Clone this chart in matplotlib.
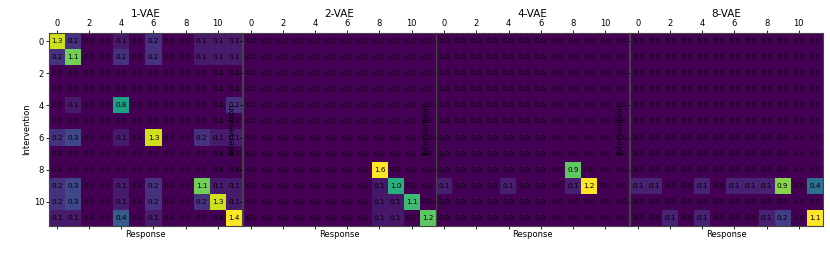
import numpy as np
import matplotlib
matplotlib.use("Agg")
import matplotlib.pyplot as plt

titles = ["1-VAE", "2-VAE", "4-VAE", "8-VAE"]

vae1 = [
    [1.3, 0.2, 0.0, 0.0, 0.1, 0.0, 0.2, 0.0, 0.0, 0.1, 0.1, 0.1],
    [0.2, 1.1, 0.0, 0.0, 0.2, 0.0, 0.2, 0.0, 0.0, 0.1, 0.1, 0.1],
    [0.0] * 12,
    [0.0] * 12,
    [0.0, 0.1, 0.0, 0.0, 0.8, 0.0, 0.0, 0.0, 0.0, 0.0, 0.0, 0.2],
    [0.0] * 12,
    [0.2, 0.3, 0.0, 0.0, 0.1, 0.0, 1.3, 0.0, 0.0, 0.2, 0.1, 0.1],
    [0.0] * 12,
    [0.0] * 12,
    [0.2, 0.3, 0.0, 0.0, 0.1, 0.0, 0.2, 0.0, 0.0, 1.1, 0.1, 0.1],
    [0.2, 0.3, 0.0, 0.0, 0.1, 0.0, 0.2, 0.0, 0.0, 0.2, 1.3, 0.1],
    [0.1, 0.1, 0.0, 0.0, 0.4, 0.0, 0.1, 0.0, 0.0, 0.0, 0.0, 1.4],
]

vae2 = [[0.0] * 12 for _ in range(8)] + [
    [0.0, 0.0, 0.0, 0.0, 0.0, 0.0, 0.0, 0.0, 1.6, 0.0, 0.0, 0.0],
    [0.0, 0.0, 0.0, 0.0, 0.0, 0.0, 0.0, 0.0, 0.1, 1.0, 0.0, 0.0],
    [0.0, 0.0, 0.0, 0.0, 0.0, 0.0, 0.0, 0.0, 0.1, 0.1, 1.1, 0.0],
    [0.0, 0.0, 0.0, 0.0, 0.0, 0.0, 0.0, 0.0, 0.1, 0.1, 0.0, 1.2],
]

vae4 = [[0.0] * 12 for _ in range(8)] + [
    [0.0, 0.0, 0.0, 0.0, 0.0, 0.0, 0.0, 0.0, 0.9, 0.0, 0.0, 0.0],
    [0.1, 0.0, 0.0, 0.0, 0.1, 0.0, 0.0, 0.0, 0.1, 1.2, 0.0, 0.0],
    [0.0] * 12,
    [0.0] * 12,
]

vae8 = [[0.0] * 12 for _ in range(9)] + [
    [0.1, 0.1, 0.0, 0.0, 0.1, 0.0, 0.1, 0.1, 0.1, 0.9, 0.0, 0.4],
    [0.0] * 12,
    [0.0, 0.0, 0.1, 0.0, 0.1, 0.0, 0.0, 0.0, 0.1, 0.2, 0.0, 1.1],
]

matrices = [vae1, vae2, vae4, vae8]

fig = plt.figure(figsize=(8.3, 2.6), dpi=100)
lefts = [0.059, 0.2925, 0.5255, 0.759]

for i, (title, mat) in enumerate(zip(titles, matrices)):
    m = np.array(mat)
    ax = fig.add_axes([lefts[i], 0.131, 0.2325, 0.742])
    ax.imshow(m, cmap="viridis", vmin=0, aspect="auto")
    for r in range(m.shape[0]):
        for c in range(m.shape[1]):
            ax.text(c, r, f"{m[r, c]:.1f}", ha="center", va="center",
                    fontsize=5.2, color="black")
    ax.set_xticks(range(0, 12, 2))
    ax.set_yticks(range(0, 12, 2))
    ax.tick_params(top=True, labeltop=True, bottom=True, labelbottom=False,
                   labelsize=6, length=2.5, width=0.6, pad=1)
    if i > 0:
        ax.tick_params(labelleft=False)
    ax.set_title(title, fontsize=7.5, pad=1)
    ax.set_xlabel("Response", fontsize=6, labelpad=0.5)
    ax.set_ylabel("Intervention", fontsize=6, labelpad=2)
    for s in ax.spines.values():
        s.set_color("#444444")
        s.set_linewidth(0.8)

fig.savefig("out.png", dpi=100)
